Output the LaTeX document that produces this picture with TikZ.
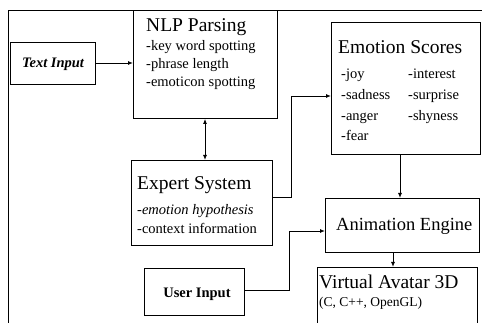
\documentclass[tikz,border=0pt]{standalone}
\usepackage{fontspec}
\setmainfont{Liberation Serif}
\usetikzlibrary{arrows.meta}
\begin{document}
\begin{tikzpicture}[x=1pt,y=-1pt,
  box/.style={draw,line width=0.9pt,inner sep=0pt,anchor=north west},
  conn/.style={line width=0.9pt},
  arr/.style={conn,-{Latex[length=5pt,width=4pt]}},
  ttl/.style={anchor=base west,inner sep=0pt,font=\fontsize{19.5}{22}\selectfont},
  itm/.style={anchor=base west,inner sep=0pt,font=\fontsize{14.5}{17}\selectfont},
  inp/.style={anchor=base,inner sep=0pt,font=\fontsize{14.5}{17}\selectfont\bfseries}]
\useasboundingbox (0,0) rectangle (482,323);
% outer frame
\coordinate (fb) at (8,330);
\coordinate (ftl) at (8,10);
\coordinate (fr) at (483,10);
\draw[conn] (fb) -- (ftl) -- (fr);
% boxes
\node[box,minimum width=85pt,minimum height=42pt] (txt) at (10,42) {};
\node[box,minimum width=144pt,minimum height=108pt] (nlp) at (133,10) {};
\node[box,minimum width=141pt,minimum height=85pt] (exp) at (131,160) {};
\node[box,minimum width=149pt,minimum height=132pt] (emo) at (331,22) {};
\node[box,minimum width=154pt,minimum height=54pt] (ani) at (325,198) {};
\node[box,minimum width=160pt,minimum height=70pt] (vir) at (317,267) {};
\node[box,minimum width=100pt,minimum height=47pt] (usr) at (144,268) {};
% texts
\node[inp,font=\fontsize{14.5}{17}\selectfont\bfseries\itshape] (txtT) at (53,68) {Text Input};
\node[ttl] (nlpT) at (146,32) {NLP Parsing};
\node[itm] (nlp1) at (146,51) {-key word spotting};
\node[itm] (nlp2) at (146,69) {-phrase length};
\node[itm] (nlp3) at (146,87) {-emoticon spotting};
\node[ttl] (expT) at (137,190) {Expert System};
\node[itm] (exp1) at (137,215) {-\textit{emotion hypothesis}};
\node[itm] (exp2) at (137,234) {-context information};
\node[ttl] (emoT) at (338,54) {Emotion Scores};
\node[itm] (emo1) at (341,79) {-joy};
\node[itm] (emo2) at (341,100) {-sadness};
\node[itm] (emo3) at (341,121) {-anger};
\node[itm] (emo4) at (341,141) {-fear};
\node[itm] (emo5) at (408,79) {-interest};
\node[itm] (emo6) at (408,100) {-surprise};
\node[itm] (emo7) at (408,121) {-shyness};
\node[ttl,font=\fontsize{18.5}{22}\selectfont] (aniT) at (336,231) {Animation Engine};
\node[ttl] (virT) at (319,288) {Virtual Avatar 3D};
\node[itm,font=\fontsize{13.5}{16}\selectfont] (vir1) at (319,306) {(C, C++, OpenGL)};
\node[inp] (usrT) at (197,297) {User Input};
% connectors
\draw[arr] (txt.east |- 0,63) -- (nlp.west |- 0,63);
\draw[conn,{Latex[length=5pt,width=4pt]}-{Latex[length=5pt,width=4pt]}] (nlp.south -| 205,0) -- (exp.north -| 205,0);
\coordinate (c1) at (291,197);
\coordinate (c2) at (291,96);
\draw[arr] (exp.east |- c1) -- (c1) -- (c2) -- (emo.west |- c2);
\draw[arr] (emo.south -| 400,0) -- (ani.north -| 400,0);
\draw[arr] (ani.south -| 393,0) -- (vir.north -| 393,0);
\coordinate (c3) at (289,290);
\coordinate (c4) at (289,231);
\draw[arr] (usr.east |- c3) -- (c3) -- (c4) -- (ani.west |- c4);
\end{tikzpicture}
\end{document}
